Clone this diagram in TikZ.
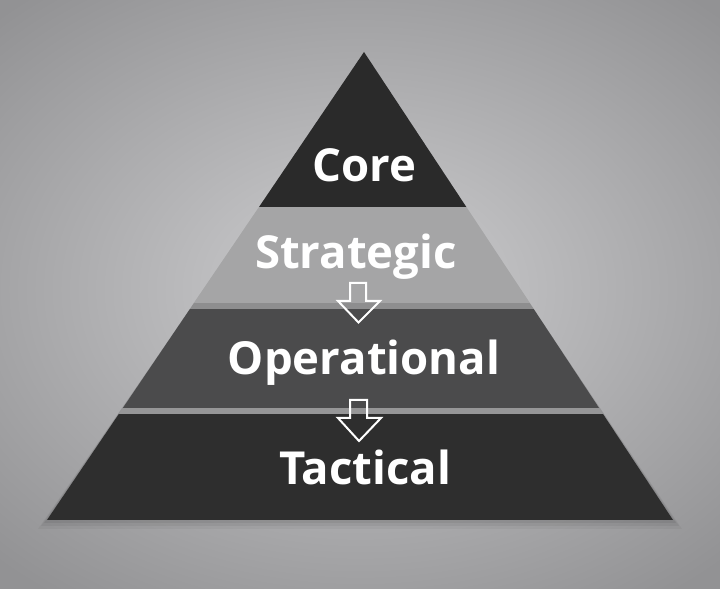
\documentclass[tikz,border=0pt]{standalone}
\usepackage{fontspec}
\setmainfont{Open Sans}
\usetikzlibrary{calc}
\definecolor{bgin}{RGB}{206,206,208}
\definecolor{bgout}{RGB}{146,146,148}
\definecolor{corec}{RGB}{42,42,42}
\definecolor{stratc}{RGB}{165,165,166}
\definecolor{stripa}{RGB}{142,142,143}
\definecolor{operc}{RGB}{75,75,76}
\definecolor{stripb}{RGB}{150,150,151}
\definecolor{tactc}{RGB}{46,46,46}
\tikzset{
  lbl/.style={text=white, font=\bfseries\fontsize{45.5}{50}\selectfont, anchor=base, inner sep=0pt},
  hollowarrow/.style={draw=white, line width=2pt, line join=miter},
}
\begin{document}
\begin{tikzpicture}[x=1pt,y=1pt]
\useasboundingbox (0,0) rectangle (720,589);
\begin{scope}
\clip (0,0) rectangle (720,589);
\shade[inner color=bgin, outer color=bgout] (-160,-80) rectangle (880,680);
\end{scope}
% pyramid corners
\coordinate (apex) at (364,537);
\coordinate (bl) at (47,69);
\coordinate (br) at (673,69);
% soft shadow
\foreach \s/\o in {9/0.04,6/0.05,3/0.06}{
  \fill[black, opacity=\o] ($(apex)+(0,-\s+2)$) -- ($(bl)+(-\s,-\s)$) -- ($(br)+(\s,-\s)$) -- cycle;
}
\begin{scope}
\clip (apex) -- (bl) -- (br) -- cycle;
\fill[corec] (0,382.4) rectangle (720,589);
\fill[stratc] (0,286) rectangle (720,382.4);
\fill[stripa] (0,280) rectangle (720,286);
\fill[operc] (0,180.5) rectangle (720,280);
\fill[stripb] (0,174.5) rectangle (720,180.5);
\fill[black!40] (0,174) rectangle (720,175);
\fill[tactc] (0,0) rectangle (720,174.5);
\end{scope}
% arrows
\draw[hollowarrow] (350,306) -- (366,306) -- (366,288) -- (380,288) -- (358.5,266.5) -- (338,288) -- (350,288) -- cycle;
\draw[hollowarrow] (350,189) -- (367,189) -- (367,171) -- (381,171) -- (359,148) -- (338,171) -- (350,171) -- cycle;
% labels
\node[lbl] (core) at (364.5,407) {Core};
\node[lbl] (strategic) at (356,320.4) {Strategic};
\node[lbl] (operational) at (364,214) {Operational};
\node[lbl] (tactical) at (365,104.4) {Tactical};
\end{tikzpicture}
\end{document}
